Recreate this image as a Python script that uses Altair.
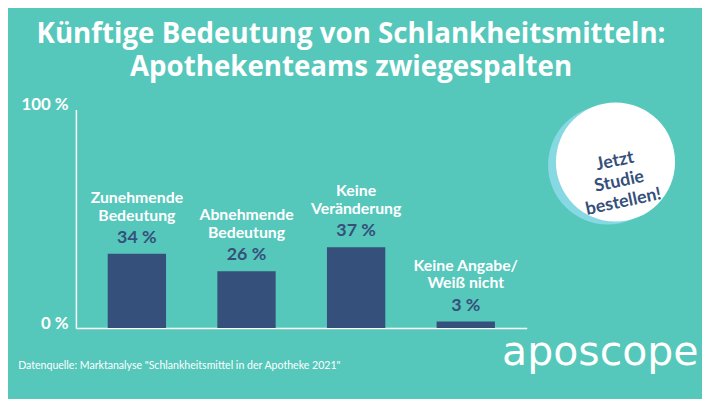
import altair as alt
import pandas as pd

# ---- data ----
categories = ["Zunehmende\nBedeutung", "Abnehmende\nBedeutung", "Keine\nVeränderung", "Keine Angabe/\nWeiß nicht"]
values = [34, 26, 37, 3]
value_labels = ["34 %", "26 %", "37 %", "3 %"]
y_ticks = [0, 100]
title_text = "Künftige Bedeutung von Schlankheitsmitteln:\nApothekenteams zwiegespalten"
badge_text = "Jetzt\nStudie\nbestellen!"
source_text = 'Datenquelle: Marktanalyse "Schlankheitsmittel in der Apotheke 2021"'
logo_text = "aposcope"

BG = "#56C7BB"
BAR = "#35507A"
SHADOW = "#86D8E2"
FONT = "Lato"

df = pd.DataFrame({"cat": categories, "value": values, "label": value_labels})
one = pd.DataFrame({"k": [0]})

x = alt.X("cat:N", sort=None,
          scale=alt.Scale(paddingInner=0.468, paddingOuter=0.29),
          axis=alt.Axis(title=None, labels=False, ticks=False,
                        domainColor="white", domainWidth=1.5))
y = alt.Y("value:Q", scale=alt.Scale(domain=[0, 100]),
          axis=alt.Axis(title=None, values=y_ticks, labelExpr="datum.value + ' %'",
                        grid=False, ticks=False, domainColor="white", domainWidth=1.5,
                        labelColor="white", labelFont=FONT, labelFontSize=17,
                        labelFontWeight="bold", labelBaseline="alphabetic",
                        labelPadding=8, labelFlush=False))

base = alt.Chart(df)
bars = base.mark_bar(color=BAR).encode(x=x, y=y)
vals = base.mark_text(dy=-16, fontSize=18, fontWeight="bold", color=BAR, font=FONT,
                      baseline="middle", align="center").encode(x=x, y=y, text="label:N")
cats = base.mark_text(dy=-56.5, lineBreak="\n", lineHeight=18, fontSize=16, fontWeight="bold",
                      color="white", font=FONT, baseline="middle", align="center").encode(
    x=x, y=y, text="cat:N")

deco = alt.Chart(one)
shadow = deco.mark_circle(color=SHADOW, opacity=1, size=14527).encode(
    x=alt.value(537.8), y=alt.value(56))
badge = deco.mark_circle(color="white", opacity=1, size=14527).encode(
    x=alt.value(545.8), y=alt.value(53))
badge_t = deco.mark_text(text=badge_text, lineBreak="\n", angle=348, lineHeight=21,
                         fontSize=18, fontWeight="bold", color=BAR, font=FONT,
                         align="center", baseline="middle").encode(
    x=alt.value(545.3), y=alt.value(52.5))
title = deco.mark_text(text=title_text, lineBreak="\n", lineHeight=33, fontSize=28,
                       fontWeight="bold", color="white", font="Open Sans",
                       align="center", baseline="alphabetic").encode(
    x=alt.value(278.3), y=alt.value(-67.3))
source = deco.mark_text(text=source_text, fontSize=10.7, color="white", font=FONT,
                        align="left", baseline="middle").encode(
    x=alt.value(-58.4), y=alt.value(259))
logo = deco.mark_text(text=logo_text, fontSize=41.5, color="white", font="DejaVu Sans",
                      align="left", baseline="alphabetic").encode(
    x=alt.value(431), y=alt.value(258))

chart = alt.layer(bars, vals, cats, shadow, badge, badge_t, title, source, logo).properties(
    width=456, height=221,
    background=BG,
    padding={"left": 68.7, "top": 100.5, "right": 177.3, "bottom": 70.5},
    autosize=alt.AutoSizeParams(type="none"),
).configure_view(stroke=None)

chart.save("out.html", embed_options={"renderer": "svg", "actions": False})
